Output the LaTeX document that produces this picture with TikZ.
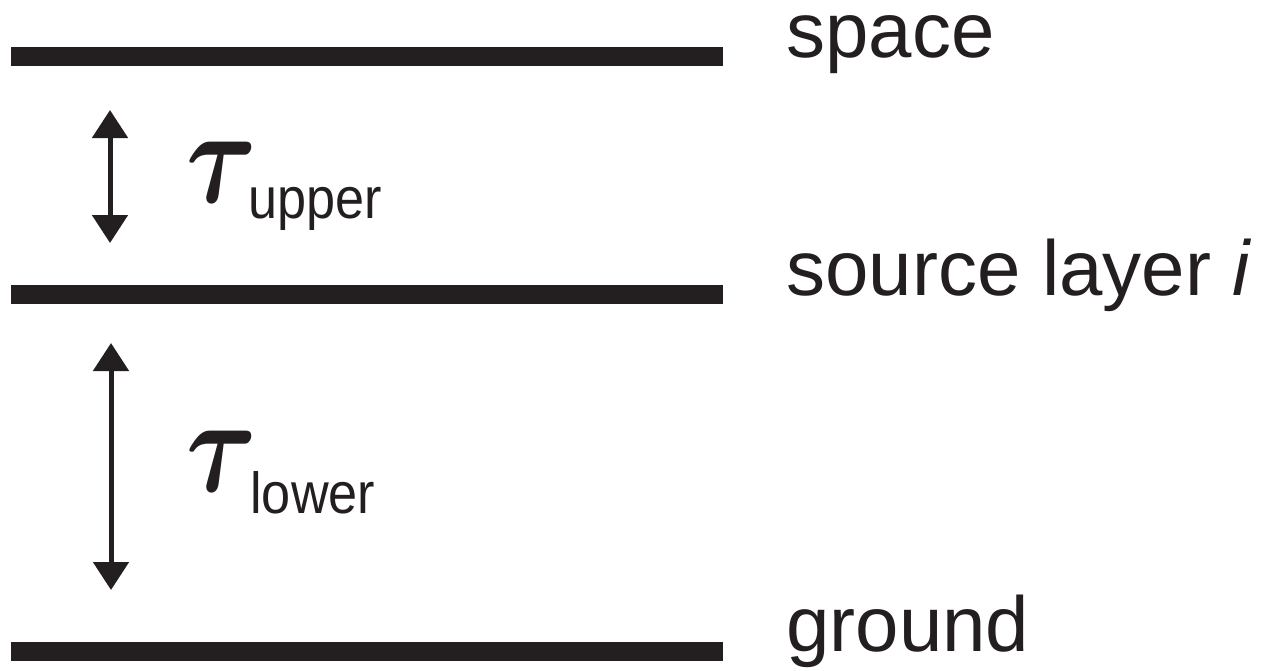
\documentclass[tikz,border=0pt]{standalone}
\usepackage{fontspec}
\setmainfont{Liberation Sans}
\usetikzlibrary{arrows.meta}
\definecolor{ink}{HTML}{231F20}
\tikzset{
  layer/.style={line width=9.5pt, ink},
  dbl/.style={line width=2.5pt, ink, {Triangle[width=17.5pt,length=14pt]}-{Triangle[width=17.5pt,length=14pt]}},
  lbl/.style={anchor=base west, inner sep=0pt, text=ink, font=\fontsize{39pt}{44pt}\selectfont},
  tau/.style={anchor=base west, inner sep=0pt, text=ink},
  sub/.style={anchor=base west, inner sep=0pt, text=ink, font=\fontsize{29pt}{32pt}\selectfont}
}
\newcommand{\bigtau}{\scalebox{5.4}[6.8]{\boldmath$\tau$}}
\begin{document}
\begin{tikzpicture}[x=0.5pt,y=-0.5pt]
\useasboundingbox (0,0) rectangle (1275,670);
% layer lines
\coordinate (sL) at (11,56.5);  \coordinate (sR) at (723,56.5);
\coordinate (mL) at (11,294);   \coordinate (mR) at (723,294);
\coordinate (gL) at (11,651);   \coordinate (gR) at (723,651);
\draw[layer] (sL) -- (sR);
\draw[layer] (mL) -- (mR);
\draw[layer] (gL) -- (gR);
% labels
\node[lbl, text height=0.55em] (space) at (786,57) {space};
\node[lbl] (source) at (786,295) {source layer \textit{i}};
\node[lbl] (ground) at (786,651) {ground};
% arrows
\coordinate (a1t) at (110,110); \coordinate (a1b) at (110,243);
\coordinate (a2t) at (111,343); \coordinate (a2b) at (111,590);
\draw[dbl] (a1t) -- (a1b);
\draw[dbl] (a2t) -- (a2b);
% tau labels
\node[tau] (tauU) at (186,202) {\bigtau};
\node[sub] (subU) at (248,218) {\scalebox{0.9}[1]{upper}};
\node[tau] (tauL) at (186,491) {\bigtau};
\node[sub] (subL) at (250,513) {\scalebox{0.9}[1]{lower}};
\end{tikzpicture}
\end{document}
